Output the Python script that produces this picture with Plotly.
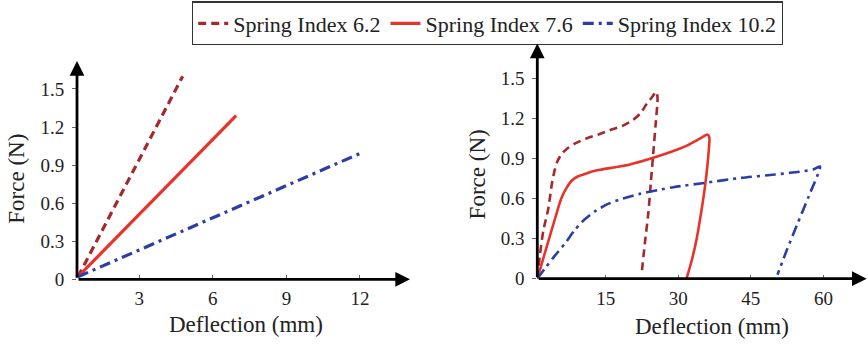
import plotly.graph_objects as go

# ---- data -------------------------------------------------------------
series_names = ["Spring Index 6.2", "Spring Index 7.6", "Spring Index 10.2"]

# Linear (elastic) region: deflection in mm, force in N
lin_x_62 = [0.5, 4.77]
lin_y_62 = [0.02, 1.60]
lin_x_76 = [0.5, 6.95]
lin_y_76 = [0.02, 1.29]
lin_x_102 = [0.5, 12.1]
lin_y_102 = [0.02, 1.00]

# Full loading / unloading curves
full_x_62 = [0.9, 1.4, 2.1, 3.1, 3.95, 4.5, 4.9, 5.8, 6.9, 8.5, 11.0, 13.5, 16.5,
             18.8, 20.7, 22.2, 23.5, 24.6, 25.4, 25.7, 25.3, 24.8, 24.3, 23.8, 23.1, 22.4]
full_y_62 = [0.0, 0.18, 0.36, 0.52, 0.73, 0.82, 0.87, 0.93, 0.97, 1.01, 1.05, 1.08, 1.12,
             1.15, 1.19, 1.24, 1.31, 1.36, 1.40, 1.36, 1.15, 0.93, 0.71, 0.49, 0.27, 0.03]
full_x_76 = [0.85, 2.8, 4.6, 5.8, 6.9, 8.0, 9.2, 10.4, 12.0, 13.8, 17.0, 20.0, 24.8,
             29.7, 32.0, 33.8, 35.2, 36.0, 36.4, 36.1, 35.5, 34.7, 33.8, 32.8, 31.7]
full_y_76 = [0.0, 0.24, 0.46, 0.60, 0.68, 0.735, 0.765, 0.78, 0.80, 0.815, 0.835, 0.855, 0.905,
             0.965, 1.00, 1.035, 1.065, 1.08, 1.06, 0.88, 0.685, 0.49, 0.30, 0.14, 0.0]
full_x_102 = [0.85, 2.5, 4.2, 6.5, 8.5, 10.5, 13.0, 15.5, 18.5, 22.0, 26.0, 29.0,
              36.0, 43.0, 50.0, 55.0, 58.0, 59.3, 57.0, 54.5, 52.5, 50.5]
full_y_102 = [0.0, 0.08, 0.16, 0.26, 0.36, 0.44, 0.51, 0.56, 0.60, 0.635, 0.665, 0.685,
              0.72, 0.755, 0.78, 0.80, 0.82, 0.84, 0.62, 0.40, 0.22, 0.03]

left_xticks = [3, 6, 9, 12]
right_xticks = [15, 30, 45, 60]
force_ticks = [0, 0.3, 0.6, 0.9, 1.2, 1.5]
force_ticktext = ["0", "0.3", "0.6", "0.9", "1.2", "1.5"]

# ---- styling ----------------------------------------------------------
colors = ["#a6282c", "#e8322a", "#2b3ea6"]
dashes = ["8px,5px", "solid", "11px,5px,3px,5px"]
FONT = "'Liberation Serif', 'Times New Roman', 'DejaVu Serif', serif"
W, H = 868, 352

left_xrange = [0.46, 14.04]
left_yrange = [0, 1.72]
right_xrange = [0.85, 68.95]
right_yrange = [0, 1.76]

fig = go.Figure()

lin_sets = [(lin_x_62, lin_y_62), (lin_x_76, lin_y_76), (lin_x_102, lin_y_102)]
full_sets = [(full_x_62, full_y_62), (full_x_76, full_y_76), (full_x_102, full_y_102)]

for i, (xs, ys) in enumerate(lin_sets):
    fig.add_trace(go.Scatter(
        x=xs, y=ys, mode="lines", name=series_names[i],
        line=dict(color=colors[i], width=3.2, dash=dashes[i]),
        xaxis="x", yaxis="y", showlegend=True,
    ))

for i, (xs, ys) in enumerate(full_sets):
    fig.add_trace(go.Scatter(
        x=xs, y=ys, mode="lines", name=series_names[i],
        line=dict(color=colors[i], width=2.6, dash=dashes[i],
                  shape="spline", smoothing=0.7),
        xaxis="x2", yaxis="y2", showlegend=False,
    ))

tickfont = dict(family=FONT, size=19, color="#222222")

common_x = dict(showgrid=False, zeroline=False, showline=False, ticks="inside",
                ticklen=4, tickwidth=1, tickcolor="#666666", tickfont=tickfont,
                ticklabelstandoff=6)
common_y = dict(showgrid=False, zeroline=False, showline=False, ticks="outside",
                ticklen=4, tickwidth=1, tickcolor="#666666", tickfont=tickfont,
                tickvals=force_ticks, ticktext=force_ticktext, ticklabelstandoff=4)

fig.update_layout(
    width=W, height=H,
    margin=dict(l=0, r=0, t=0, b=0),
    paper_bgcolor="white", plot_bgcolor="white",
    font=dict(family=FONT, color="#222222"),
    xaxis=dict(domain=[77 / W, 410 / W], range=left_xrange, tickvals=left_xticks,
               anchor="y", **common_x),
    yaxis=dict(domain=[1 - 288.3 / H, 1 - 63 / H], range=left_yrange, anchor="x",
               **common_y),
    xaxis2=dict(domain=[537.3 / W, 866.7 / W], range=right_xrange,
                tickvals=right_xticks, anchor="y2", **common_x),
    yaxis2=dict(domain=[1 - 287.7 / H, 1 - 45 / H], range=right_yrange, anchor="x2",
                **common_y),
    legend=dict(
        orientation="h", x=783 / W, xanchor="right", y=1 - 1.5 / H, yanchor="top",
        bordercolor="#333333", borderwidth=1.2, bgcolor="white",
        font=dict(family=FONT, size=22, color="#222222"),
        itemwidth=30,
    ),
)

# Axis lines with arrowheads
arrow_style = dict(showarrow=True, arrowhead=2, arrowsize=1.05, arrowwidth=2.8,
                   arrowcolor="black", text="", standoff=0, startstandoff=0)
axes_pairs = [("x", "y", left_xrange, left_yrange), ("x2", "y2", right_xrange, right_yrange)]
for xr, yr, xrg, yrg in axes_pairs:
    fig.add_annotation(xref=xr, yref=yr, axref=xr, ayref=yr,
                       x=xrg[1], y=0, ax=xrg[0], ay=0, **arrow_style)
    fig.add_annotation(xref=xr, yref=yr, axref=xr, ayref=yr,
                       x=xrg[0], y=yrg[1], ax=xrg[0], ay=0, **arrow_style)

# Axis titles
title_font = dict(family=FONT, size=23, color="#222222")
titles = [
    ("Deflection (mm)", 246 / W, 1 - 335 / H, 0),
    ("Deflection (mm)", 712 / W, 1 - 337 / H, 0),
    ("Force (N)", 16.5 / W, 1 - 185 / H, -90),
    ("Force (N)", 477 / W, 1 - 180 / H, -90),
]
for txt, px, py, ang in titles:
    fig.add_annotation(xref="paper", yref="paper", x=px, y=py, text=txt,
                       showarrow=False, textangle=ang, font=title_font,
                       xanchor="center", yanchor="middle")

fig.write_html("out.html")
